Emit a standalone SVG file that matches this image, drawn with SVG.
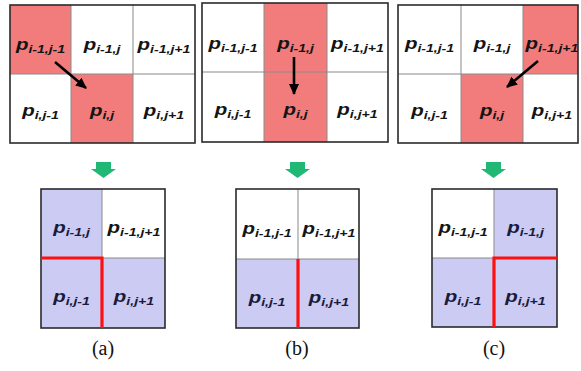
<svg xmlns="http://www.w3.org/2000/svg" width="581" height="371" viewBox="0 0 581 371">
<defs>
<style>
.t{font-family:"Liberation Sans",Arial,sans-serif;font-weight:bold;font-style:italic;font-size:16px;fill:#141414;text-anchor:middle}
.tb{fill:#1a1a3a}
.s{font-size:11px}
.red{fill:#f27c7c}
.blue{fill:#cbcbf3}
.white{fill:#ffffff}
.grid{stroke:#8a8a8a;stroke-width:1;fill:none}
.frame{stroke:#2a2a2a;stroke-width:1.6;fill:none}
.rl{stroke:#ff1010;stroke-width:3.2;fill:none}
.ar{stroke:#000;stroke-width:2.6;fill:none}
.gr{fill:#20b874}
.cap{font-family:"Liberation Serif","Times New Roman",serif;font-size:20px;fill:#111;text-anchor:middle}
</style>
<marker id="ah" markerUnits="userSpaceOnUse" markerWidth="11" markerHeight="10" refX="10" refY="5" orient="auto">
<path d="M0,0 L11,5 L0,10 z" fill="#000"/>
</marker>
</defs>
<rect width="581" height="371" fill="#ffffff"/>

<!-- Panel (a) top -->
<g id="top-a">
<rect class="white" x="10" y="5" width="185" height="138"/>
<rect class="red" x="10" y="5" width="61" height="69"/>
<rect class="red" x="71" y="74" width="62" height="69"/>
<path class="grid" d="M71,5 V143 M133,5 V143 M10,74 H195"/>
<rect class="frame" x="10" y="5" width="185" height="138"/>
<text class="t" transform="translate(40.5,50) scale(1.28,1)"><tspan>p</tspan><tspan class="s" dy="3">i-1,j-1</tspan></text>
<text class="t" transform="translate(102,50) scale(1.28,1)"><tspan>p</tspan><tspan class="s" dy="3">i-1,j</tspan></text>
<text class="t" transform="translate(164,50) scale(1.28,1)"><tspan>p</tspan><tspan class="s" dy="3">i-1,j+1</tspan></text>
<text class="t" transform="translate(40.5,116) scale(1.28,1)"><tspan>p</tspan><tspan class="s" dy="3">i,j-1</tspan></text>
<text class="t" transform="translate(102,116) scale(1.28,1)"><tspan>p</tspan><tspan class="s" dy="3">i,j</tspan></text>
<text class="t" transform="translate(164,116) scale(1.28,1)"><tspan>p</tspan><tspan class="s" dy="3">i,j+1</tspan></text>
</g>

<!-- Panel (b) top -->
<g id="top-b">
<rect class="white" x="202" y="3" width="186" height="139"/>
<rect class="red" x="264" y="3" width="63" height="139"/>
<path class="grid" d="M264,3 V142 M327,3 V142 M202,72 H388"/>
<rect class="frame" x="202" y="3" width="186" height="139"/>
<text class="t" transform="translate(233,49) scale(1.28,1)"><tspan>p</tspan><tspan class="s" dy="3">i-1,j-1</tspan></text>
<text class="t" transform="translate(295.5,49) scale(1.28,1)"><tspan>p</tspan><tspan class="s" dy="3">i-1,j</tspan></text>
<text class="t" transform="translate(357.5,49) scale(1.28,1)"><tspan>p</tspan><tspan class="s" dy="3">i-1,j+1</tspan></text>
<text class="t" transform="translate(233,115) scale(1.28,1)"><tspan>p</tspan><tspan class="s" dy="3">i,j-1</tspan></text>
<text class="t" transform="translate(295.5,115) scale(1.28,1)"><tspan>p</tspan><tspan class="s" dy="3">i,j</tspan></text>
<text class="t" transform="translate(357.5,115) scale(1.28,1)"><tspan>p</tspan><tspan class="s" dy="3">i,j+1</tspan></text>
</g>

<!-- Panel (c) top -->
<g id="top-c">
<rect class="white" x="398" y="5" width="180" height="138"/>
<rect class="red" x="523" y="5" width="55" height="69"/>
<rect class="red" x="461" y="74" width="62" height="69"/>
<path class="grid" d="M461,5 V143 M523,5 V143 M398,74 H578"/>
<rect class="frame" x="398" y="5" width="180" height="138"/>
<text class="t" transform="translate(429.5,49) scale(1.28,1)"><tspan>p</tspan><tspan class="s" dy="3">i-1,j-1</tspan></text>
<text class="t" transform="translate(492,49) scale(1.28,1)"><tspan>p</tspan><tspan class="s" dy="3">i-1,j</tspan></text>
<text class="t" transform="translate(552,49) scale(1.28,1)"><tspan>p</tspan><tspan class="s" dy="3">i-1,j+1</tspan></text>
<text class="t" transform="translate(429.5,115.5) scale(1.28,1)"><tspan>p</tspan><tspan class="s" dy="3">i,j-1</tspan></text>
<text class="t" transform="translate(492,115.5) scale(1.28,1)"><tspan>p</tspan><tspan class="s" dy="3">i,j</tspan></text>
<text class="t" transform="translate(552,115.5) scale(1.28,1)"><tspan>p</tspan><tspan class="s" dy="3">i,j+1</tspan></text>
</g>

<!-- Panel (a) bottom -->
<g id="bottom-a">
<rect class="blue" x="41" y="189" width="124" height="139"/>
<rect class="white" x="102" y="189" width="63" height="69"/>
<path class="grid" d="M102,189 V328 M41,258 H165"/>
<rect class="frame" x="41" y="189" width="124" height="139"/>
<path class="rl" d="M41,258 H102 V328"/>
<text class="t tb" transform="translate(71.5,233) scale(1.28,1)"><tspan>p</tspan><tspan class="s" dy="3">i-1,j</tspan></text>
<text class="t" transform="translate(134,233) scale(1.28,1)"><tspan>p</tspan><tspan class="s" dy="3">i-1,j+1</tspan></text>
<text class="t tb" transform="translate(71.5,301.5) scale(1.28,1)"><tspan>p</tspan><tspan class="s" dy="3">i,j-1</tspan></text>
<text class="t tb" transform="translate(134,301.5) scale(1.28,1)"><tspan>p</tspan><tspan class="s" dy="3">i,j+1</tspan></text>
</g>

<!-- Panel (b) bottom -->
<g id="bottom-b">
<rect class="white" x="236" y="189" width="123" height="70"/>
<rect class="blue" x="236" y="259" width="123" height="69"/>
<path class="grid" d="M298,189 V328 M236,259 H359"/>
<rect class="frame" x="236" y="189" width="123" height="139"/>
<path class="rl" d="M298,259 V328"/>
<text class="t" transform="translate(267,234) scale(1.28,1)"><tspan>p</tspan><tspan class="s" dy="3">i-1,j-1</tspan></text>
<text class="t" transform="translate(329,234) scale(1.28,1)"><tspan>p</tspan><tspan class="s" dy="3">i-1,j+1</tspan></text>
<text class="t tb" transform="translate(267,302.5) scale(1.28,1)"><tspan>p</tspan><tspan class="s" dy="3">i,j-1</tspan></text>
<text class="t tb" transform="translate(329,302.5) scale(1.28,1)"><tspan>p</tspan><tspan class="s" dy="3">i,j+1</tspan></text>
</g>

<!-- Panel (c) bottom -->
<g id="bottom-c">
<rect class="blue" x="432" y="189" width="125" height="138"/>
<rect class="white" x="432" y="189" width="62" height="69"/>
<path class="grid" d="M494,189 V327 M432,258 H557"/>
<rect class="frame" x="432" y="189" width="125" height="138"/>
<path class="rl" d="M557,258 H494 V327"/>
<text class="t" transform="translate(463,233) scale(1.28,1)"><tspan>p</tspan><tspan class="s" dy="3">i-1,j-1</tspan></text>
<text class="t tb" transform="translate(525.5,233) scale(1.28,1)"><tspan>p</tspan><tspan class="s" dy="3">i-1,j</tspan></text>
<text class="t tb" transform="translate(463,301.5) scale(1.28,1)"><tspan>p</tspan><tspan class="s" dy="3">i,j-1</tspan></text>
<text class="t tb" transform="translate(525.5,301.5) scale(1.28,1)"><tspan>p</tspan><tspan class="s" dy="3">i,j+1</tspan></text>
</g>

<!-- Connectors -->
<g id="connectors">
<line class="ar" x1="55" y1="62" x2="86" y2="88" marker-end="url(#ah)"/>
<line class="ar" x1="294" y1="57" x2="294" y2="94" marker-end="url(#ah)"/>
<line class="ar" x1="538" y1="61" x2="507" y2="87" marker-end="url(#ah)"/>
<path class="gr" d="M96,162 H111 V169 H116 L103.5,178 L91,169 H96 Z"/>
<path class="gr" d="M290,162 H305 V169 H310 L297.5,178 L285,169 H290 Z"/>
<path class="gr" d="M486,162 H501 V169 H506 L493.5,178 L481,169 H486 Z"/>
</g>

<g id="captions">
<text class="cap" x="103" y="355">(a)</text>
<text class="cap" x="297" y="355">(b)</text>
<text class="cap" x="494" y="355">(c)</text>
</g>
</svg>
